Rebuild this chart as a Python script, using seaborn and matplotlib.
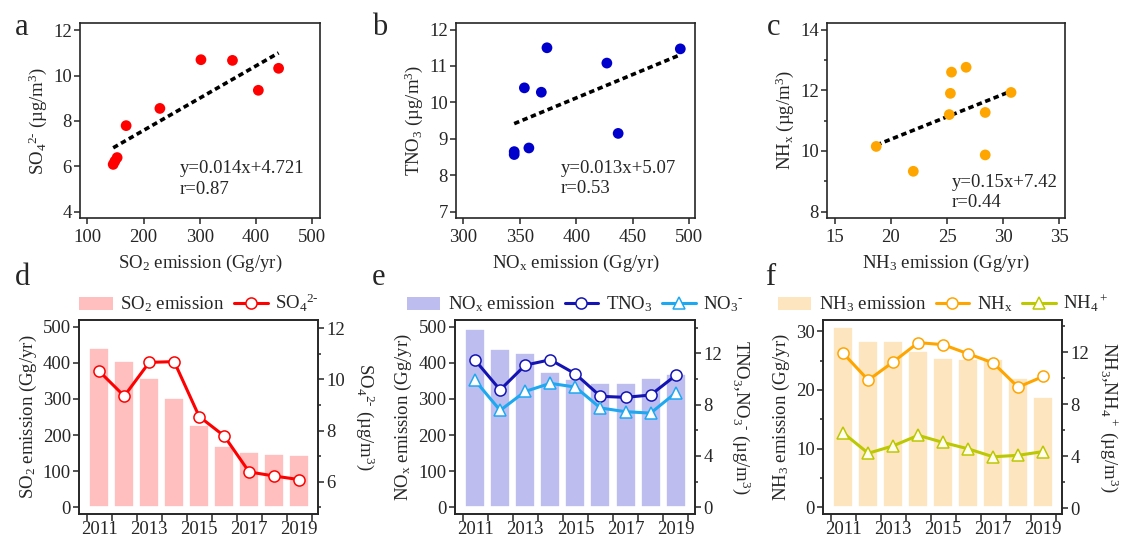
import numpy as np
import pandas as pd
import matplotlib
matplotlib.use("Agg")
import matplotlib.pyplot as plt
import seaborn as sns
from matplotlib import font_manager as fm
from matplotlib.patches import Patch
from matplotlib.lines import Line2D
from matplotlib.ticker import MultipleLocator, FixedLocator, NullFormatter, FixedFormatter

# ---------------- data ----------------
years = [2011, 2012, 2013, 2014, 2015, 2016, 2017, 2018, 2019]
so2_emis = [440, 404, 358, 302, 229, 169, 153, 149, 146]
so4 = [10.32, 9.35, 10.67, 10.70, 8.55, 7.79, 6.38, 6.22, 6.08]
nox_emis = [492, 437, 427, 374, 354, 345, 345, 358, 369]
tno3 = [11.47, 9.15, 11.08, 11.50, 10.40, 8.65, 8.57, 8.75, 10.28]
no3 = [9.89, 7.55, 9.03, 9.66, 9.37, 7.74, 7.45, 7.34, 8.92]
nh3_emis = [30.7, 28.4, 28.4, 26.7, 25.4, 25.3, 25.2, 22.0, 18.7]
nhx = [11.93, 9.87, 11.27, 12.76, 12.60, 11.90, 11.20, 9.33, 10.15]
nh4 = [5.80, 4.24, 4.81, 5.62, 5.07, 4.58, 3.97, 4.08, 4.37]

fit_text = [("y=0.014x+4.721", "r=0.87"), ("y=0.013x+5.07", "r=0.53"), ("y=0.15x+7.42", "r=0.44")]
year_labels = ["2011", "2013", "2015", "2017", "2019"]

# ---------------- fonts ----------------
serif_name = "Liberation Serif"
for f in fm.findSystemFonts():
    base = f.split("/")[-1]
    if base.startswith("LiberationSerif") or base.lower().startswith("times"):
        try:
            fm.fontManager.addfont(f)
        except Exception:
            pass
for f in fm.findSystemFonts():
    if f.split("/")[-1].startswith("LiberationSerif-Regular"):
        serif_name = fm.FontProperties(fname=f).get_name()

sns.set_style("ticks")
plt.rcParams["font.family"] = [serif_name, "DejaVu Serif"]
plt.rcParams["font.serif"] = [serif_name, "DejaVu Serif"]
plt.rcParams["mathtext.fontset"] = "custom"
plt.rcParams["mathtext.rm"] = serif_name
plt.rcParams["mathtext.it"] = serif_name + ":italic"
plt.rcParams["mathtext.bf"] = serif_name + ":bold"
plt.rcParams["axes.linewidth"] = 1.2
for k in ["xtick.major.width", "ytick.major.width", "xtick.minor.width", "ytick.minor.width"]:
    plt.rcParams[k] = 1.1
plt.rcParams["xtick.major.size"] = 4
plt.rcParams["ytick.major.size"] = 4
plt.rcParams["ytick.minor.size"] = 2.5
plt.rcParams["xtick.direction"] = "out"
plt.rcParams["ytick.direction"] = "out"

FS = 13.5
W, H = 1125, 538
fig = plt.figure(figsize=(W / 100, H / 100), dpi=100)


def box(l, r, t, b):
    return [l / W, 1 - b / H, (r - l) / W, (b - t) / H]


uni = "\u00b5g/m$^{3}$"
sup2 = "$^{2\\text{-}}$"

# ---------------- top row: scatter ----------------
top_specs = [
    dict(pos=box(80, 320, 23, 218.3), x=so2_emis, y=so4, color="#ff0000",
         xlim=(87, 513.6), ylim=(3.7, 12.32), xt=100, yt=2, ymin=None,
         xlabel="SO$_2$ emission (Gg/yr)", ylabel="SO$_4$" + sup2 + " (" + uni + ")",
         tx=0.417, ty=(0.231, 0.125)),
    dict(pos=box(456, 695, 23, 218.3), x=nox_emis, y=tno3, color="#0000cc",
         xlim=(293.5, 505), ylim=(6.82, 12.18), xt=50, yt=1, ymin=None,
         xlabel="NO$_\\mathrm{x}$ emission (Gg/yr)", ylabel="TNO$_3$ (" + uni + ")",
         tx=0.438, ty=(0.231, 0.128)),
    dict(pos=box(827, 1065, 23, 218.3), x=nh3_emis, y=nhx, color="#ffa500",
         xlim=(14.32, 35.5), ylim=(7.78, 14.22), xt=5, yt=2, ymin=1,
         xlabel="NH$_3$ emission (Gg/yr)", ylabel="NH$_\\mathrm{x}$ (" + uni + ")",
         tx=0.524, ty=(0.162, 0.06)),
]

for sp, (t1, t2) in zip(top_specs, fit_text):
    ax = fig.add_axes(sp["pos"])
    sns.regplot(x=np.array(sp["x"]), y=np.array(sp["y"]), ax=ax, scatter=False, ci=None,
                truncate=True, color="black",
                line_kws=dict(linestyle=(0, (1.5, 1.0)), linewidth=2.6))
    sns.scatterplot(x=sp["x"], y=sp["y"], ax=ax, color=sp["color"], s=60,
                    edgecolor="none", linewidth=0, zorder=3)
    ax.set_xlim(*sp["xlim"])
    ax.set_ylim(*sp["ylim"])
    ax.xaxis.set_major_locator(MultipleLocator(sp["xt"]))
    ax.yaxis.set_major_locator(MultipleLocator(sp["yt"]))
    if sp["ymin"]:
        ax.yaxis.set_minor_locator(MultipleLocator(sp["ymin"]))
    ax.tick_params(axis="y", labelsize=FS, pad=2)
    ax.tick_params(axis="x", labelsize=FS, pad=4)
    ax.set_xlabel(sp["xlabel"], fontsize=FS, labelpad=5)
    ax.set_ylabel(sp["ylabel"], fontsize=FS, labelpad=3)
    for s in ax.spines.values():
        s.set_visible(True)
    ax.text(sp["tx"], sp["ty"][0], t1, transform=ax.transAxes, fontsize=FS, va="baseline")
    ax.text(sp["tx"], sp["ty"][1], t2, transform=ax.transAxes, fontsize=FS, va="baseline")

# ---------------- bottom row: bars + lines ----------------
pos = np.arange(len(years))
edges = np.arange(-0.5, len(years), 1.0)


def bottom_panel(rect, emis, bar_color, lines, ylim_l, ylim_r, lmaj, lmin, rmaj, rmin,
                 ylabel_l, ylabel_r, legend_items):
    ax = fig.add_axes(rect)
    sns.barplot(x=years, y=emis, ax=ax, color=bar_color, saturation=1, width=0.8,
                edgecolor="white", linewidth=1.2, zorder=1)
    ax2 = ax.twinx()
    for vals, col, mk, face in lines:
        sns.lineplot(x=pos, y=vals, ax=ax2, color=col, linewidth=2.2, marker=mk,
                     markersize=8 if mk == "o" else 9, markerfacecolor=face,
                     markeredgecolor=col, markeredgewidth=1.1, zorder=3)
    ax.set_xlim(-0.8, 8.77)
    ax2.set_xlim(-0.8, 8.77)
    ax.set_ylim(*ylim_l)
    ax2.set_ylim(*ylim_r)
    ax.xaxis.set_major_locator(FixedLocator(edges.tolist()))
    ax.xaxis.set_major_formatter(NullFormatter())
    ax.xaxis.set_minor_locator(FixedLocator(pos[::2].tolist()))
    ax.xaxis.set_minor_formatter(FixedFormatter(year_labels))
    ax.tick_params(axis="x", which="minor", length=0, pad=4.5, labelsize=FS)
    ax.tick_params(axis="x", which="major", length=5)
    ax.yaxis.set_major_locator(MultipleLocator(lmaj))
    if lmin:
        ax.yaxis.set_minor_locator(MultipleLocator(lmin))
    ax2.yaxis.set_major_locator(MultipleLocator(rmaj))
    ax2.yaxis.set_minor_locator(MultipleLocator(rmin))
    ax.tick_params(axis="y", labelsize=FS, pad=2)
    ax2.tick_params(axis="y", labelsize=FS, pad=2)
    ax.set_xlabel("")
    ax.set_ylabel(ylabel_l, fontsize=FS, labelpad=3)
    ax2.set_ylabel(ylabel_r, fontsize=FS, rotation=270, va="bottom", labelpad=6)
    for s in ax.spines.values():
        s.set_visible(True)
    for s in ax2.spines.values():
        s.set_visible(True)
    handles = [Patch(facecolor=bar_color, edgecolor="none")]
    for vals, col, mk, face in lines:
        handles.append(Line2D([0], [0], color=col, lw=2.2, marker=mk, markersize=8 if mk == "o" else 9,
                              markerfacecolor=face, markeredgecolor=col, markeredgewidth=1.1))
    ax2.legend(handles=handles, labels=legend_items, ncol=3, frameon=False, fontsize=FS,
               loc="lower center", bbox_to_anchor=(0.5, 1.0), borderaxespad=0.1,
               handlelength=1.8, handletextpad=0.4, columnspacing=0.5, borderpad=0.2)
    return ax, ax2


bottom_panel(box(79.3, 318.3, 320, 514.3), so2_emis, "#ffbfbf",
             [(so4, "#ff0000", "o", "white")],
             (-19, 518), (4.72, 12.33), 100, None, 2, 1,
             "SO$_2$ emission (Gg/yr)", "SO$_4$" + sup2 + " (" + uni + ")",
             ["SO$_2$ emission", "SO$_4$" + sup2])

bottom_panel(box(455, 695, 320, 514.3), nox_emis, "#bdbdf0",
             [(tno3, "#1414b4", "o", "white"), (no3, "#1ea8f0", "^", "white")],
             (-19, 518), (-0.55, 14.6), 100, None, 4, 2,
             "NO$_\\mathrm{x}$ emission (Gg/yr)", "TNO$_3$,NO$_3$$^{\\text{-}}$ (" + uni + ")",
             ["NO$_\\mathrm{x}$ emission", "TNO$_3$", "NO$_3$$^{\\text{-}}$"])

bottom_panel(box(823.3, 1062.3, 320, 514.3), nh3_emis, "#fde5c0",
             [(nhx, "#ffa500", "o", "white"), (nh4, "#bcc800", "^", "#fffff0")],
             (-1.2, 31.9), (-0.46, 14.5), 10, 5, 4, 2,
             "NH$_3$ emission (Gg/yr)", "NH$_3$,NH$_4$$^+$ (" + uni + ")",
             ["NH$_3$ emission", "NH$_\\mathrm{x}$", "NH$_4$$^+$"])

# ---------------- panel letters ----------------
for lab, x, y in [("a", 15, 35), ("b", 372, 35), ("c", 767, 35),
                  ("d", 15, 285), ("e", 372, 285), ("f", 765, 285)]:
    fig.text(x / W, 1 - y / H, lab, fontsize=22, va="baseline", ha="left")

fig.savefig("out.png", dpi=100)
